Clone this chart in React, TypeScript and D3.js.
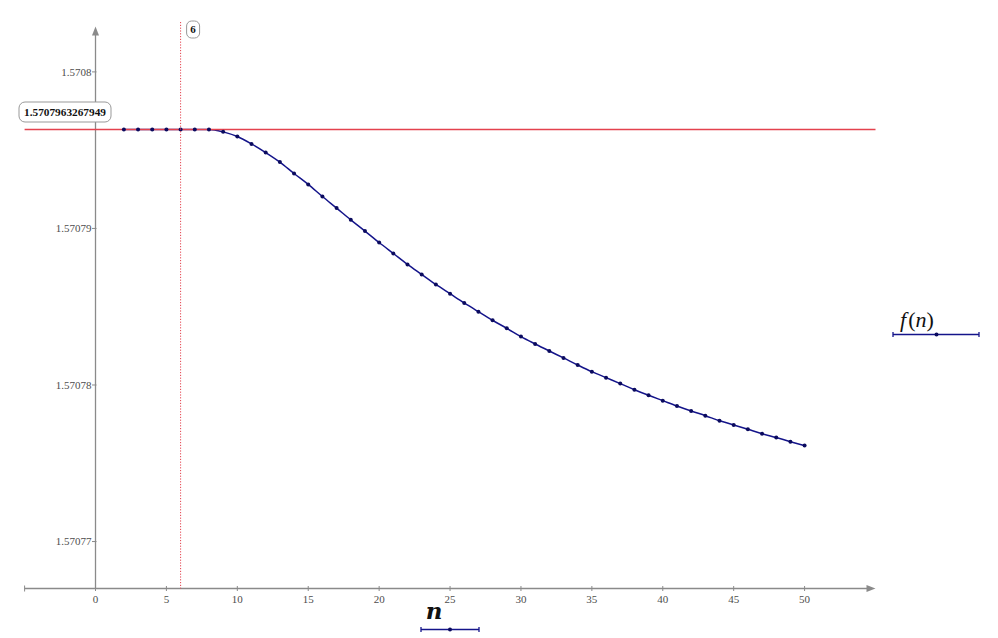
import React from "react";
import * as d3 from "d3";

const nValues = [2, 3, 4, 5, 6, 7, 8, 9, 10, 11, 12, 13, 14, 15, 16, 17, 18, 19, 20, 21, 22, 23, 24, 25, 26, 27, 28, 29, 30, 31, 32, 33, 34, 35, 36, 37, 38, 39, 40, 41, 42, 43, 44, 45, 46, 47, 48, 49, 50];
const fValues = [
  1.5707963267949, 1.5707963267949, 1.5707963267949, 1.5707963267949, 1.5707963267949, 1.5707963267949, 1.5707963267949,
  1.57079617, 1.57079587, 1.5707954, 1.57079485, 1.57079424, 1.57079351, 1.57079281, 1.57079204, 1.5707913, 1.57079055,
  1.57078983, 1.5707891, 1.5707884, 1.5707877, 1.57078706, 1.57078642, 1.57078583, 1.57078524, 1.57078468, 1.57078413,
  1.57078362, 1.57078309, 1.57078262, 1.57078217, 1.57078173, 1.57078128, 1.57078085, 1.57078047, 1.57078009, 1.5707797,
  1.57077934, 1.570779, 1.57077866, 1.57077834, 1.57077804, 1.57077772, 1.57077745, 1.57077717, 1.57077689, 1.57077664,
  1.57077638, 1.57077613,
];
const xTicks = [0, 5, 10, 15, 20, 25, 30, 35, 40, 45, 50];
const xTickLabels = ["0", "5", "10", "15", "20", "25", "30", "35", "40", "45", "50"];
const yTicks = [1.57077, 1.57078, 1.57079, 1.5708];
const yTickLabels = ["1.57077", "1.57078", "1.57079", "1.5708"];
const xDomain = [-5, 55];
const yDomain = [1.570767, 1.5708029];
const refValue = 1.5707963267949;
const refLabel = "1.5707963267949";
const markerN = 6;
const markerLabel = "6";
const xAxisTitle = "n";
const seriesFn = "f";
const seriesArg = "n";

const W = 998;
const H = 638;
const axisColor = "#8a8a8a";
const tickText = "#4d4d4d";
const curveColor = "#14148a";
const dotColor = "#0b0b5e";
const refColor = "#e4424e";
const font = "'Liberation Serif', 'DejaVu Serif', serif";

export default function App() {
  const x = d3.scaleLinear().domain(xDomain).range([24.6, 875.5]);
  const y = d3.scaleLinear().domain(yDomain).range([588.5, 26.5]);
  const x0 = x(0);
  const yAxisY = y(yDomain[0]);
  const pts = nValues.map((n, i) => [n, fValues[i]] as [number, number]);
  const line = d3
    .line<[number, number]>()
    .x((d) => x(d[0]))
    .y((d) => y(d[1]))
    .curve(d3.curveMonotoneX);
  const refY = y(refValue);
  const mx = x(markerN);

  return (
    <svg
      width={W}
      height={H}
      style={{ position: "fixed", left: 0, top: 0, background: "#fff" }}
      fontFamily={font}
    >
      {/* y axis */}
      <line x1={x0} x2={x0} y1={yAxisY} y2={y(yDomain[1]) + 4} stroke={axisColor} strokeWidth={1.3} />
      <path
        d={`M${x0},${y(yDomain[1])} L${x0 - 3.5},${y(yDomain[1]) + 9} L${x0 + 3.5},${y(yDomain[1]) + 9} Z`}
        fill={axisColor}
      />
      {yTicks.map((t, i) => (
        <g key={"yt" + i}>
          <line x1={x0 - 3.5} x2={x0 + 1} y1={y(t)} y2={y(t)} stroke={axisColor} strokeWidth={1} />
          <text x={x0 - 4} y={y(t)} dy="0.35em" textAnchor="end" fontSize={11} fill={tickText}>
            {yTickLabels[i]}
          </text>
        </g>
      ))}
      {/* x axis */}
      <line x1={x(xDomain[0])} x2={x(xDomain[1]) - 4} y1={yAxisY} y2={yAxisY} stroke={axisColor} strokeWidth={1.3} />
      <path
        d={`M${x(xDomain[1])},${yAxisY} L${x(xDomain[1]) - 9},${yAxisY - 3.5} L${x(xDomain[1]) - 9},${yAxisY + 3.5} Z`}
        fill={axisColor}
      />
      <line x1={x(xDomain[0])} x2={x(xDomain[0])} y1={yAxisY - 3} y2={yAxisY + 3} stroke={axisColor} strokeWidth={1} />
      {xTicks.map((t, i) => (
        <g key={"xt" + i}>
          <line x1={x(t)} x2={x(t)} y1={yAxisY - 2.5} y2={yAxisY + 2.5} stroke={axisColor} strokeWidth={1} />
          <text x={x(t)} y={yAxisY + 11} dy="0.35em" textAnchor="middle" fontSize={11} fill={tickText}>
            {xTickLabels[i]}
          </text>
        </g>
      ))}

      {/* curve */}
      <path d={line(pts) || ""} fill="none" stroke={curveColor} strokeWidth={1.5} />
      {/* reference horizontal line */}
      <line x1={x(xDomain[0])} x2={x(xDomain[1])} y1={refY} y2={refY} stroke={refColor} strokeWidth={1.5} />
      {/* dots */}
      {pts.map((p, i) => (
        <circle key={"p" + i} cx={x(p[0])} cy={y(p[1])} r={2} fill={dotColor} />
      ))}
      {/* vertical marker */}
      <line x1={mx} x2={mx} y1={22} y2={yAxisY} stroke={refColor} strokeWidth={1} strokeDasharray="1.2,1.6" />
      <rect x={mx + 6} y={21} width={13} height={17} rx={5} fill="#fff" stroke="#999" strokeWidth={1} />
      <text x={mx + 12.5} y={29.5} dy="0.35em" textAnchor="middle" fontSize={11} fontWeight="bold" fill="#111">
        {markerLabel}
      </text>
      {/* ref label */}
      <rect x={19} y={102} width={92} height={20} rx={6} fill="#fff" stroke="#999" strokeWidth={1} />
      <text x={65} y={112} dy="0.35em" textAnchor="middle" fontSize={11.3} fontWeight="bold" fill="#111">
        {refLabel}
      </text>

      {/* x axis title + legend swatch */}
      <text
        x={434}
        y={619}
        textAnchor="middle"
        fontSize={23}
        fontStyle="italic"
        fontWeight="bold"
        fontFamily="'DejaVu Serif', serif"
        fill="#111"
      >
        {xAxisTitle}
      </text>
      <line x1={421} x2={479} y1={629.5} y2={629.5} stroke={curveColor} strokeWidth={1.5} />
      <line x1={421} x2={421} y1={627} y2={632} stroke={curveColor} strokeWidth={1.3} />
      <line x1={479} x2={479} y1={627} y2={632} stroke={curveColor} strokeWidth={1.3} />
      <circle cx={450} cy={629.5} r={2} fill={dotColor} />

      {/* series legend */}
      <text x={900} y={327} fontSize={22} fill="#111">
        <tspan fontStyle="italic">{seriesFn}</tspan>
        <tspan dx={2}>(</tspan>
        <tspan fontStyle="italic">{seriesArg}</tspan>
        <tspan>)</tspan>
      </text>
      <line x1={893} x2={979} y1={334.5} y2={334.5} stroke={curveColor} strokeWidth={1.5} />
      <line x1={893} x2={893} y1={332} y2={337} stroke={curveColor} strokeWidth={1.3} />
      <line x1={979} x2={979} y1={332} y2={337} stroke={curveColor} strokeWidth={1.3} />
      <circle cx={936.5} cy={334.5} r={2} fill={dotColor} />
    </svg>
  );
}
